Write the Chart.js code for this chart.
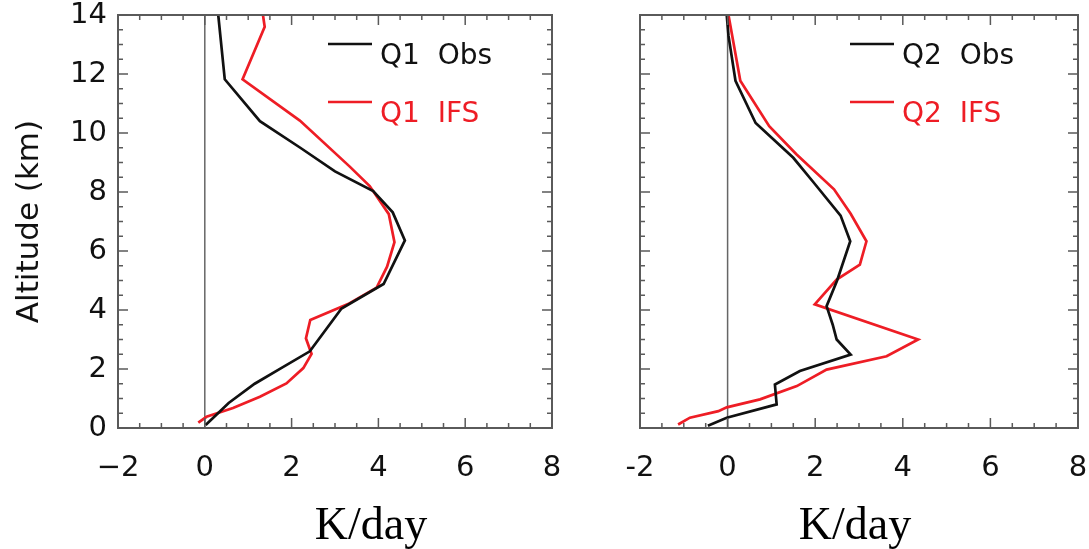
<!DOCTYPE html>
<html><head><meta charset="utf-8">
<script src="https://cdn.jsdelivr.net/npm/chart.js@4.4.1/dist/chart.umd.min.js"></script>
<style>
html,body{margin:0;padding:0;background:#fff;width:1089px;height:549px;overflow:hidden}
canvas{position:absolute;left:0;top:0}
.unit{position:absolute;top:501px;width:240px;text-align:center;font-family:"Liberation Serif","Times New Roman",serif;font-size:46px;line-height:46px;color:#000}
</style></head><body>
<canvas id="c1" width="1089" height="549"></canvas>
<canvas id="c2" width="1089" height="549"></canvas>
<div class="unit" style="left:251px">K/day</div>
<div class="unit" style="left:735px">K/day</div>
<script>
// ---- data (K/day vs altitude km) ----
const xTickValues = [-2, 0, 2, 4, 6, 8];
const altTickValues = [0, 2, 4, 6, 8, 10, 12, 14];

const q1ObsX   = [0.02, 0.55, 1.15, 1.75, 2.42, 3.15, 4.12, 4.61, 4.33, 3.88, 3.00, 2.20, 1.27, 0.46, 0.31];
const q1ObsAlt = [0.10, 0.85, 1.50, 2.02, 2.60, 4.05, 4.88, 6.36, 7.31, 8.03, 8.70, 9.50, 10.40, 11.82, 14.0];

const q1IfsX   = [-0.15, 0.04, 0.65, 1.27, 1.88, 2.27, 2.46, 2.33, 2.43, 3.30, 3.96, 4.20, 4.37, 4.24, 3.80, 3.34, 2.19, 0.87, 1.38, 1.34];
const q1IfsAlt = [0.18, 0.38, 0.68, 1.06, 1.51, 2.03, 2.51, 3.04, 3.66, 4.20, 4.76, 5.47, 6.30, 7.25, 8.20, 8.86, 10.42, 11.82, 13.6, 14.0];

const q2ObsX   = [-0.45, -0.02, 1.12, 1.08, 1.65, 2.81, 2.49, 2.40, 2.26, 2.50, 2.80, 2.58, 1.96, 1.50, 0.64, 0.18, 0.02, -0.02];
const q2ObsAlt = [0.08, 0.35, 0.80, 1.47, 1.93, 2.49, 3.00, 3.50, 4.13, 5.00, 6.33, 7.20, 8.33, 9.16, 10.34, 11.77, 13.3, 14.0];

const q2IfsX   = [-1.13, -0.86, -0.21, -0.02, 0.74, 1.58, 2.26, 3.63, 4.35, 1.99, 2.49, 3.02, 3.17, 2.81, 2.43, 1.57, 0.95, 0.29, 0.02];
const q2IfsAlt = [0.12, 0.35, 0.57, 0.70, 0.97, 1.42, 1.98, 2.43, 3.00, 4.19, 5.03, 5.54, 6.33, 7.26, 8.09, 9.28, 10.23, 11.77, 14.0];

const seriesLabels = ['Q1  Obs', 'Q1  IFS', 'Q2  Obs', 'Q2  IFS'];
const yTitle = 'Altitude (km)';

// ---- helpers ----
const toPts = (xs, ys) => xs.map((v, i) => ({x: v, y: ys[i]}));
const BLACK = '#111111', RED = '#ee1d25', AXIS = '#5a5a5a';

const boxPlugin = {
  id: 'boxPlugin',
  beforeDatasetsDraw(chart) {
    const {ctx, chartArea: a, scales: {x}} = chart;
    const p0 = x.getPixelForValue(0);
    ctx.save();
    ctx.strokeStyle = '#666';
    ctx.lineWidth = 1.5;
    ctx.beginPath(); ctx.moveTo(p0, a.top); ctx.lineTo(p0, a.bottom); ctx.stroke();
    ctx.restore();
  },
  afterDatasetsDraw(chart) {
    const {ctx, chartArea: a, scales: {x, y}} = chart;
    ctx.save();
    ctx.strokeStyle = AXIS;
    ctx.lineWidth = 2;
    ctx.strokeRect(a.left, a.top, a.right - a.left, a.bottom - a.top);
    ctx.lineWidth = 1.5;
    ctx.beginPath();
    for (let v = x.min; v <= x.max + 1e-9; v += 0.5) {
      const px = x.getPixelForValue(v);
      const len = Math.abs(v / 2 - Math.round(v / 2)) < 1e-9 ? 10 : 5;
      ctx.moveTo(px, a.bottom); ctx.lineTo(px, a.bottom - len);
      ctx.moveTo(px, a.top); ctx.lineTo(px, a.top + len);
    }
    for (let v = y.min; v <= y.max + 1e-9; v += 0.5) {
      const py = y.getPixelForValue(v);
      const len = Math.abs(v / 2 - Math.round(v / 2)) < 1e-9 ? 10 : 5;
      ctx.moveTo(a.left, py); ctx.lineTo(a.left + len, py);
      ctx.moveTo(a.right, py); ctx.lineTo(a.right - len, py);
    }
    ctx.stroke();
    ctx.restore();
  },
  afterDraw(chart) {
    const {ctx, chartArea: a} = chart;
    ctx.save();
    ctx.font = '28px "DejaVu Sans"';
    ctx.textBaseline = 'alphabetic';
    ctx.textAlign = 'left';
    chart.data.datasets.forEach((ds, i) => {
      const capTop = a.top + 28 + i * 58;
      ctx.strokeStyle = ds.borderColor;
      ctx.lineWidth = 2.6;
      ctx.beginPath();
      ctx.moveTo(a.left + 210, capTop + 1);
      ctx.lineTo(a.left + 254, capTop + 1);
      ctx.stroke();
      ctx.fillStyle = ds.borderColor;
      ctx.fillText(ds.label, a.left + 262, capTop + 20.5);
    });
    ctx.restore();
  }
};

function zeroPad(s) { s.paddingTop = 0; s.paddingBottom = 0; s.paddingLeft = 0; s.paddingRight = 0; }

function makeChart(id, isLeft, obs, ifs, obsLabel, ifsLabel) {
  const fmt = isLeft
    ? (v => (v < 0 ? '\u2212' + Math.abs(v) : String(v)))
    : (v => String(v));
  return new Chart(document.getElementById(id), {
    type: 'scatter',
    data: {
      datasets: [
        {label: obsLabel, data: obs, showLine: true, borderColor: BLACK, backgroundColor: BLACK, borderWidth: 2.7, pointRadius: 0, tension: 0},
        {label: ifsLabel, data: ifs, showLine: true, borderColor: RED, backgroundColor: RED, borderWidth: 2.7, pointRadius: 0, tension: 0}
      ]
    },
    options: {
      responsive: false,
      animation: false,
      devicePixelRatio: 1,
      layout: {padding: isLeft ? {top: 15, right: 537, left: 0, bottom: 0} : {top: 15, right: 11, left: 0, bottom: 0}},
      plugins: {legend: {display: false}, tooltip: {enabled: false}},
      scales: {
        x: {
          type: 'linear',
          min: xTickValues[0], max: xTickValues[xTickValues.length - 1],
          grid: {display: false, drawTicks: false},
          border: {display: false},
          ticks: {stepSize: xTickValues[1] - xTickValues[0], padding: 23, color: '#111', maxRotation: 0, autoSkip: false,
                  font: {family: 'DejaVu Sans', size: 29}, callback: fmt},
          afterFit(s) { s.height = 121; zeroPad(s); }
        },
        y: {
          type: 'linear',
          min: altTickValues[0], max: altTickValues[altTickValues.length - 1],
          grid: {display: false, drawTicks: false},
          border: {display: false},
          ticks: {display: isLeft, stepSize: altTickValues[1] - altTickValues[0], padding: 11, color: '#111',
                  font: {family: 'DejaVu Sans', size: 29}},
          title: {display: isLeft, text: yTitle, color: '#111', font: {family: 'DejaVu Sans', size: 31}, padding: {top: 11, bottom: 0}},
          afterFit(s) { s.width = isLeft ? 118 : 640; zeroPad(s); }
        }
      }
    },
    plugins: [boxPlugin]
  });
}

makeChart('c1', true, toPts(q1ObsX, q1ObsAlt), toPts(q1IfsX, q1IfsAlt), seriesLabels[0], seriesLabels[1]);
makeChart('c2', false, toPts(q2ObsX, q2ObsAlt), toPts(q2IfsX, q2IfsAlt), seriesLabels[2], seriesLabels[3]);
</script>
</body></html>
